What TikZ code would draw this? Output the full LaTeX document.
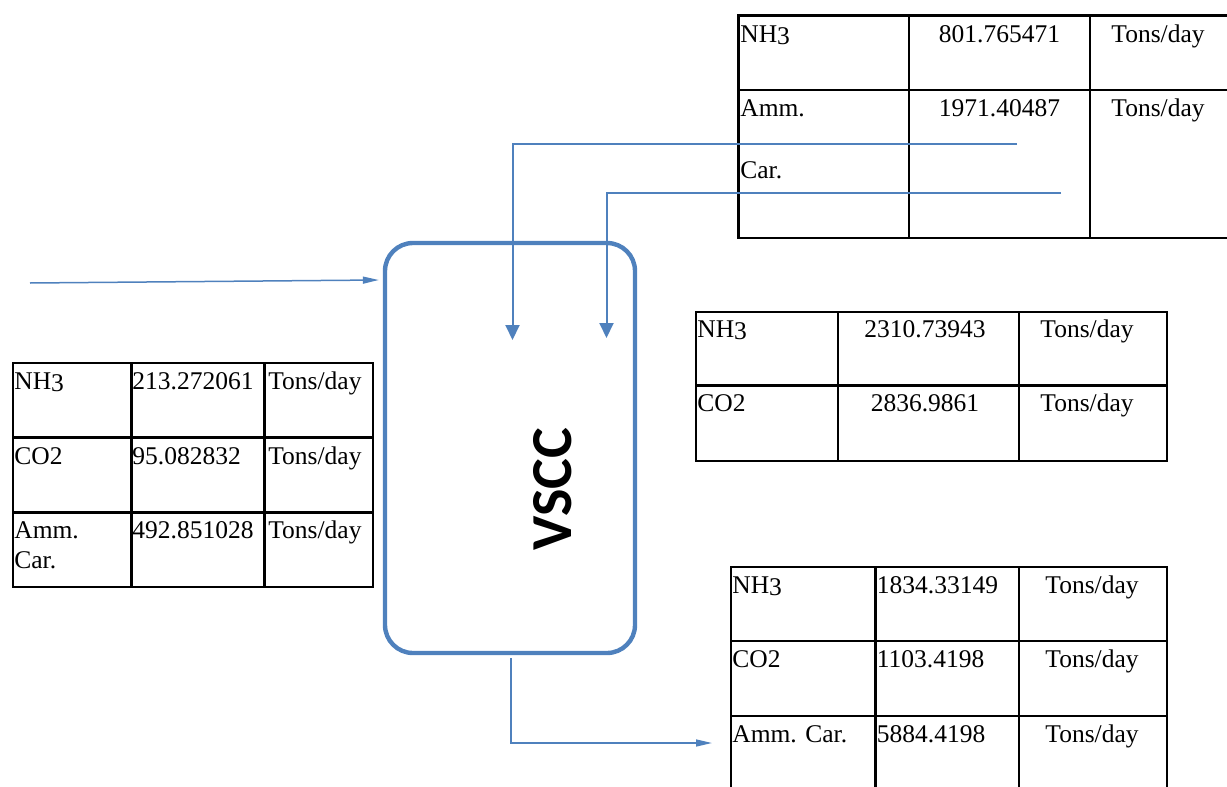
\documentclass[tikz,border=0pt]{standalone}
\usepackage{fontspec}
\setmainfont{Liberation Serif}
\newfontfamily\vesselfont{Carlito}
\usepackage{tikz}
\usetikzlibrary{arrows.meta,positioning,calc}
\definecolor{vsccBlue}{HTML}{4F81BD}
\newcommand{\nhIII}{NH\raisebox{-0.25ex}{3}}

\begin{document}
\begin{tikzpicture}[
    x=0.5pt, y=-0.5pt,
    font=\fontsize{12.75}{15}\selectfont,
    grid/.style={draw=black, line width=1.1pt},
    cell/.style={anchor=base west, inner sep=0pt},
    cellc/.style={anchor=base, inner sep=0pt},
    vessel/.style={draw=vsccBlue, line width=2.2pt, rounded corners=14pt, minimum width=125pt, minimum height=205pt},
    flow/.style={draw=vsccBlue, line width=1pt, -{Triangle[length=7.5pt,width=7pt]}},
    thinflow/.style={draw=vsccBlue, line width=0.75pt, -{Triangle[length=8pt,width=3.5pt]}}
]
\useasboundingbox (0,0) rectangle (1227,787);

% vessel
\node[vessel] (vscc) at (510,448) {};
\node[rotate=90, inner sep=0pt, font=\vesselfont\bfseries\fontsize{29}{30}\selectfont] (vsccLabel) at (553,489) {VSCC};

% left table (feed)
\draw[grid] (13,363) rectangle (373,587);
\draw[grid] (131.5,363) -- (131.5,587) (264.5,363) -- (264.5,587);
\draw[grid] (13,437.5) -- (373,437.5) (13,512.5) -- (373,512.5);
\node[cell] (feedNH) at (14,389) {\nhIII};
\node[cell] (feedNHval) at (132,389) {213.272061};
\node[cell] (feedNHunit) at (268,389) {Tons/day};
\node[cell] (feedCO) at (14,464) {CO2};
\node[cell] (feedCOval) at (132,464) {95.082832};
\node[cell] (feedCOunit) at (268,464) {Tons/day};
\node[cell] (feedAmm) at (14,538) {Amm.};
\node[cell] (feedCar) at (14,568) {Car.};
\node[cell] (feedAmmval) at (132,538) {492.851028};
\node[cell] (feedAmmunit) at (268,538) {Tons/day};

% top right table
\draw[grid] (1227,15.5) -- (738.5,15.5) -- (738.5,238) -- (1227,238);
\draw[grid] (738.5,90) -- (1227,90);
\draw[grid] (909,15.5) -- (909,238) (1090,15.5) -- (1090,238);
\node[cell] (topNH) at (740,42) {\nhIII};
\node[cellc] (topNHval) at (999.5,42) {801.765471};
\node[cellc] (topNHunit) at (1158,42) {Tons/day};
\node[cell] (topAmm) at (740,116) {Amm.};
\node[cellc] (topAmmval) at (999.5,116) {1971.40487};
\node[cellc] (topAmmunit) at (1158,116) {Tons/day};
\node[cell] (topCar) at (740,178) {Car.};

% middle right table
\draw[grid] (696,312) rectangle (1167,461);
\draw[grid] (838,312) -- (838,461) (1019,312) -- (1019,461);
\draw[grid] (696,385.5) -- (1167,385.5);
\node[cell] (midNH) at (697,337) {\nhIII};
\node[cellc] (midNHval) at (925,337) {2310.73943};
\node[cellc] (midNHunit) at (1087,337) {Tons/day};
\node[cell] (midCO) at (697,411) {CO2};
\node[cellc] (midCOval) at (925,411) {2836.9861};
\node[cellc] (midCOunit) at (1087,411) {Tons/day};

% bottom right table (product)
\draw[grid] (731,795) -- (731,567) -- (1167,567) -- (1167,795);
\draw[grid] (875.5,567) -- (875.5,795) (1019,567) -- (1019,795);
\draw[grid] (731,641) -- (1167,641) (731,716) -- (1167,716);
\node[cell] (prodNH) at (732,593) {\nhIII};
\node[cell] (prodNHval) at (876.5,593) {1834.33149};
\node[cellc] (prodNHunit) at (1092,593) {Tons/day};
\node[cell] (prodCO) at (732,667) {CO2};
\node[cell] (prodCOval) at (876.5,667) {1103.4198};
\node[cellc] (prodCOunit) at (1092,667) {Tons/day};
\node[cell] (prodAmm) at (732,742) {Amm. Car.};
\node[cell] (prodAmmval) at (876.5,742) {5884.4198};
\node[cellc] (prodAmmunit) at (1092,742) {Tons/day};

% streams
\coordinate (feedStart) at (30,283);
\coordinate (feedIn) at ([xshift=-2pt]vscc.west |- 0,280);
\draw[thinflow] (feedStart) -- (feedIn);

\coordinate (recycleA) at (1017,144);
\coordinate (recycleAin) at (512.5,340);
\coordinate (recycleB) at (1061,193);
\coordinate (recycleBin) at (606.5,338);
\draw[flow] (recycleA) -| (recycleAin);
\draw[flow] (recycleB) -| (recycleBin);

\coordinate (outTop) at ([yshift=-1.5pt]vscc.south -| 511,0);
\coordinate (outTip) at ([xshift=-10pt]prodAmm.west |- 0,743);
\draw[thinflow] (outTop) |- (outTip);

\end{tikzpicture}
\end{document}
